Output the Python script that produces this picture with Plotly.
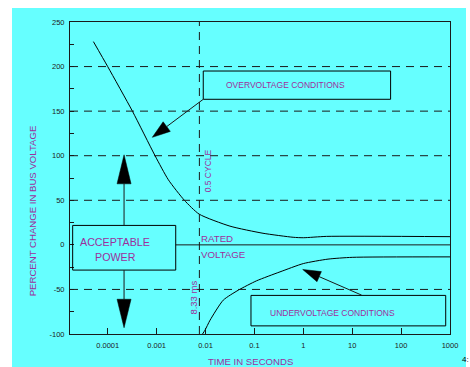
import math
import plotly.graph_objects as go

# ---------------- data ----------------
over_time = [5.1e-5, 1e-4, 3.2e-4, 9.3e-4, 1.74e-3, 3.7e-3, 7.4e-3, 0.0316, 0.15, 0.62, 1.0, 3.0, 1000]
over_pct = [228, 200, 150, 100, 73, 50, 34.5, 21, 13, 8.5, 8, 9.5, 9.2]

under_time = [0.0087, 0.00977, 0.0124, 0.0231, 0.047, 0.111, 0.334, 1.0, 3.2, 10, 1000]
under_pct = [-100, -95.7, -84.5, -62, -50.8, -40.3, -30.3, -21, -16, -14, -13.5]

x_tick_vals = [1e-4, 1e-3, 1e-2, 1e-1, 1, 10, 100, 1000]
x_tick_text = ["0.0001", "0.001", "0.01", "0.1", "1", "10", "100", "1000"]
y_tick_vals = list(range(-100, 251, 25))
y_tick_text = [str(v) if v % 50 == 0 else "" for v in y_tick_vals]
grid_levels = [200, 150, 100, 50, -50]
half_cycle_time = 0.0075
rated_level = 0

# ---------------- style / layout constants ----------------
W, H = 470, 367
ML, MR, MT, MB = 70, 20, 22, 33
PW, PH = W - ML - MR, H - MT - MB
X_RANGE = [-4.771, 3]
Y_RANGE = [-100, 250]
CYAN = "#66ffff"
MAG = "#9c309c"
INK = "#1a1a1a"
FONT = "Arial, Liberation Sans, sans-serif"


def to_paper(t, v):
    xp = (math.log10(t) - X_RANGE[0]) / (X_RANGE[1] - X_RANGE[0])
    yp = (v - Y_RANGE[0]) / (Y_RANGE[1] - Y_RANGE[0])
    return xp, yp


def arrow(tail, tip, head_len, head_w):
    """Shaft line + filled triangular head, built in paper space."""
    tx, ty = to_paper(*tail)
    hx, hy = to_paper(*tip)
    ax_, ay_ = tx * PW, ty * PH
    bx_, by_ = hx * PW, hy * PH
    dx, dy = bx_ - ax_, by_ - ay_
    d = math.hypot(dx, dy)
    ux, uy = dx / d, dy / d
    nx, ny = -uy, ux
    basex, basey = bx_ - ux * head_len, by_ - uy * head_len
    c1 = (basex + nx * head_w / 2, basey + ny * head_w / 2)
    c2 = (basex - nx * head_w / 2, basey - ny * head_w / 2)
    pts = [(bx_, by_), c1, c2]
    path = "M " + " L ".join(f"{px / PW:.5f},{py / PH:.5f}" for px, py in pts) + " Z"
    shaft = dict(type="line", xref="paper", yref="paper", x0=tx, y0=ty,
                 x1=basex / PW, y1=basey / PH, line=dict(color=INK, width=1))
    head = dict(type="path", xref="paper", yref="paper", path=path,
                fillcolor="black", line=dict(color="black", width=0.5))
    return [shaft, head]


fig = go.Figure()
fig.add_trace(go.Scatter(x=over_time, y=over_pct, mode="lines",
                         line=dict(color="black", width=1, shape="spline", smoothing=0.6),
                         hoverinfo="skip", showlegend=False))
fig.add_trace(go.Scatter(x=under_time, y=under_pct, mode="lines",
                         line=dict(color="black", width=1, shape="spline", smoothing=0.6),
                         hoverinfo="skip", showlegend=False))

shapes = []
# cyan page background
shapes.append(dict(type="rect", xref="paper", yref="paper", layer="below",
                   x0=(12 - ML) / PW, x1=(466 - ML) / PW,
                   y0=-0.2, y1=(H - MB - 8) / PH,
                   fillcolor=CYAN, line=dict(width=0)))
# dashed grid lines
for g in grid_levels:
    shapes.append(dict(type="line", xref="paper", yref="y", x0=0, x1=1, y0=g, y1=g,
                       line=dict(color=INK, width=1, dash="8px,6px")))
# half cycle vertical dashed line
shapes.append(dict(type="line", xref="x", yref="paper", x0=half_cycle_time, x1=half_cycle_time,
                   y0=0, y1=1, line=dict(color=INK, width=1, dash="8px,6px")))
# rated voltage line
shapes.append(dict(type="line", xref="x", yref="y", x0=2.46e-3, x1=1000, y0=rated_level, y1=rated_level,
                   line=dict(color=INK, width=1)))
# boxes
box_line = dict(color="black", width=1)
shapes.append(dict(type="rect", xref="x", yref="y", x0=0.009, x1=61, y0=163.3, y1=195, line=box_line))
shapes.append(dict(type="rect", xref="x", yref="y", x0=0.0851, x1=817, y0=-90.9, y1=-56.7, line=box_line))
shapes.append(dict(type="rect", xref="x", yref="y", x0=1.92e-5, x1=2.46e-3, y0=-28.3, y1=21.8, line=box_line))
# arrows
shapes += arrow((0.009, 163.3), (8.17e-4, 120.6), 18, 12)
shapes += arrow((15.6, -56.4), (0.972, -27.6), 18, 11)
shapes += arrow((2.16e-4, 21.8), (2.16e-4, 101), 29, 14)
shapes += arrow((2.16e-4, -28.3), (2.16e-4, -93), 28.5, 14)

ann = []


def txt(x, y, s, size, xanchor="center", angle=0, color=MAG, xref="x", yref="y"):
    ann.append(dict(x=x, y=y, xref=xref, yref=yref, text=s, showarrow=False,
                    xanchor=xanchor, yanchor="middle", textangle=angle,
                    font=dict(family=FONT, size=size, color=color)))


txt(-0.354, 179.1, "OVERVOLTAGE CONDITIONS", 8.5)
txt(0.607, -76.3, "UNDERVOLTAGE CONDITIONS", 8.5)
txt(-3.845, 3.1, "ACCEPTABLE", 10.7)
txt(-3.836, -13.7, "POWER", 10.7)
txt(-2.127, 6.8, "RATED", 9.7, xanchor="left")
txt(-2.127, -10.4, "VOLTAGE", 9.7, xanchor="left")
txt(-1.949, 82.5, "0.5 CYCLE", 8.5, angle=-90)
txt(-2.241, -59.5, "8.33 ms", 9.5, angle=-90)
# axis titles
txt((250 - ML) / PW, (H - MB - 361.5) / PH, "TIME IN SECONDS", 9.6, xref="paper", yref="paper")
txt((32.3 - ML) / PW, (H - MB - 211) / PH, "PERCENT CHANGE IN BUS VOLTAGE", 9.6, angle=-90,
    xref="paper", yref="paper")
txt((460 - ML) / PW, (H - MB - 359) / PH, "4:", 8, xanchor="left", color="black",
    xref="paper", yref="paper")

fig.update_layout(
    width=W, height=H, autosize=False,
    margin=dict(l=ML, r=MR, t=MT, b=MB, pad=0),
    paper_bgcolor="white", plot_bgcolor="rgba(0,0,0,0)",
    shapes=shapes, annotations=ann,
    font=dict(family=FONT, size=7.5, color="#222"),
    xaxis=dict(type="log", range=X_RANGE, tickvals=x_tick_vals, ticktext=x_tick_text,
               ticks="inside", ticklen=6, tickcolor=INK, showline=True, mirror=True,
               linecolor=INK, linewidth=1, showgrid=False, zeroline=False,
               ticklabelstandoff=4,
               tickfont=dict(size=7.5, color="#222"), automargin=False, fixedrange=True),
    yaxis=dict(range=Y_RANGE, tickvals=y_tick_vals, ticktext=y_tick_text,
               ticks="inside", ticklen=4, tickcolor=INK, showline=True, mirror=True,
               linecolor=INK, linewidth=1, showgrid=False, zeroline=False,
               ticklabelstandoff=3,
               tickfont=dict(size=7.5, color="#222"), automargin=False, fixedrange=True),
)

fig.write_html("out.html", config={"displayModeBar": False},
               post_script="document.body.style.margin='0';document.body.style.overflow='hidden';")
